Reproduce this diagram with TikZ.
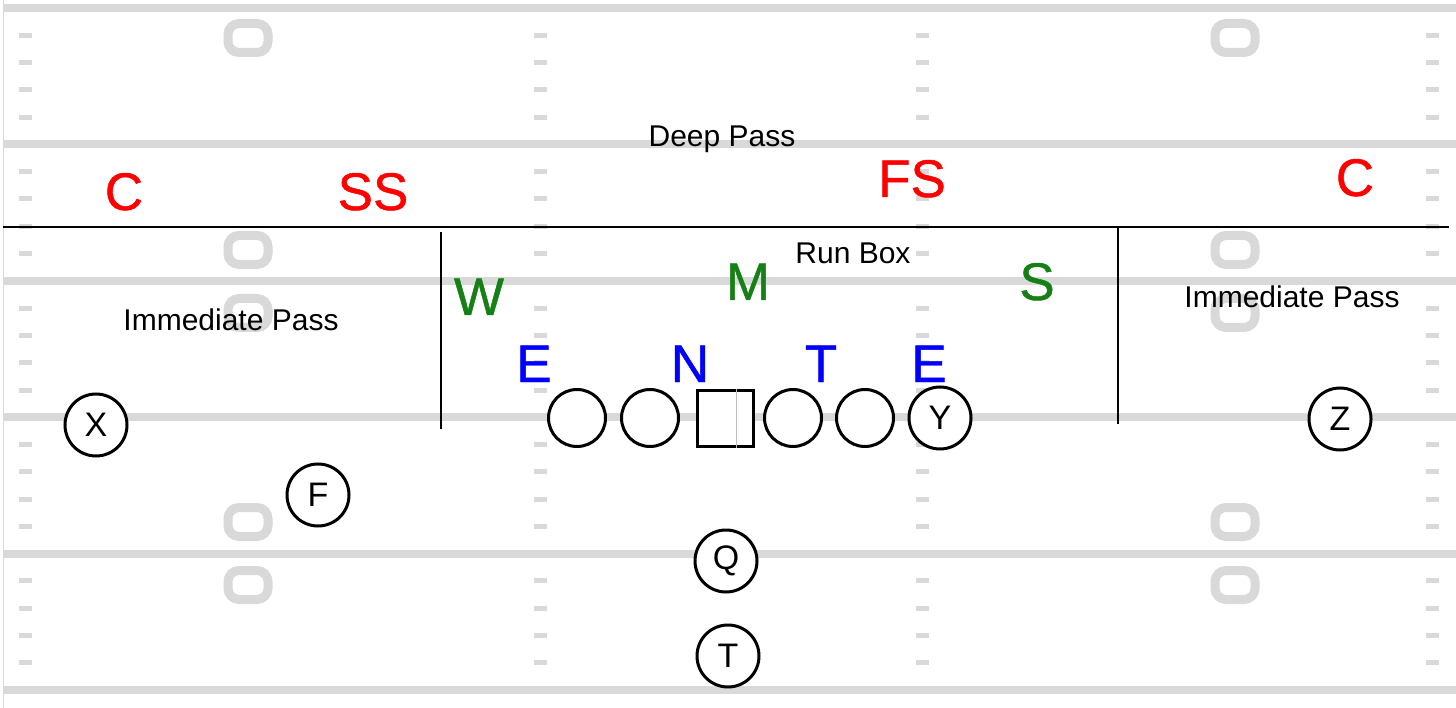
\documentclass[tikz,border=0pt]{standalone}
\usepackage{fontspec}
\setmainfont{Liberation Sans}
\newfontfamily\heavysans[FakeBold=0.9]{Liberation Sans}
\usepackage{tikz}
\definecolor{fieldgray}{RGB}{217,217,217}
\definecolor{defred}{RGB}{255,0,0}
\definecolor{lbgreen}{RGB}{22,128,22}
\definecolor{dlblue}{RGB}{0,0,255}

\begin{document}
\begin{tikzpicture}[x=1pt,y=-1pt,
		yardline/.style={draw=fieldgray,line width=8pt},
		hashmark/.style={fill=fieldgray},
		numberbox/.style={draw=fieldgray,line width=9pt,rounded corners=11pt},
		zoneline/.style={draw=black,line width=2.2pt},
		zonelabel/.style={font=\fontsize{30}{36}\selectfont,anchor=base,inner sep=0pt},
		defender/.style={font=\heavysans\fontsize{53}{60}\selectfont,anchor=base,inner sep=0pt},
		player/.style={fill=white,circle,draw,line width=3pt,minimum size=62pt,inner sep=0pt,font=\fontsize{34}{40}\selectfont},
		lineman/.style={player,minimum size=57pt}]
			\useasboundingbox (0,0) rectangle (1456,708);
			\fill[white] (0,0) rectangle (1456,708);
			% field
			\draw[fieldgray,line width=1pt] (3,0) -- (3,708);
			\foreach \i in {0,...,5}{
				\draw[yardline] (3, {8+136.4*\i}) -- (1456, {8+136.4*\i});
			}
			\foreach \i in {0,...,4}{
				\foreach \k in {1,...,4}{
					\foreach \x in {25,540,922,1432}{
						\fill[hashmark] ({\x-6.5}, {8+136.4*\i+27.3*\k-2.5}) rectangle ++(13,5);
					}
				}
			}
			\foreach \x in {248,1235}{
				\foreach \y in {38,250,313,522,585}{
					\draw[numberbox] ({\x-20}, {\y-14.5}) rectangle ({\x+20}, {\y+14.5});
				}
			}
			% zones
			\draw[zoneline] (3,227) -- (1449,227);
			\draw[zoneline] (441,232) -- (441,429);
			\draw[zoneline] (1118,227) -- (1118,424);
			\node[zonelabel] (deep) at (722,147) {Deep Pass};
			\node[zonelabel] (runbox) at (853,264) {Run Box};
			\node[zonelabel] (immleft) at (231,331) {Immediate Pass};
			\node[zonelabel] (immright) at (1292,308) {Immediate Pass};
			% defense
			\node[defender,text=defred] (cbl) at (124,210) {C};
			\node[defender,text=defred] (ss) at (373,210) {SS};
			\node[defender,text=defred] (fs) at (912,197) {FS};
			\node[defender,text=defred] (cbr) at (1355,196) {C};
			\node[defender,text=lbgreen] (will) at (479,315) {W};
			\node[defender,text=lbgreen] (mike) at (748,300) {M};
			\node[defender,text=lbgreen] (sam) at (1037,300) {S};
			\node[defender,text=dlblue] (endl) at (534,382) {E};
			\node[defender,text=dlblue] (nose) at (690,382) {N};
			\node[defender,text=dlblue] (tack) at (821,382) {T};
			\node[defender,text=dlblue] (endr) at (929,382) {E};
			% offense
			\node[lineman] (lt) at (577,418) {};
			\node[lineman] (lg) at (650,418) {};
			\node[fill=white,draw,line width=3pt,minimum size=56pt,inner sep=0pt] (ctr) at (725,418) {};
			\draw[gray!50,line width=0.8pt] ([xshift=11pt]ctr.north) -- ([xshift=11pt]ctr.south);
			\node[lineman] (rg) at (793,418) {};
			\node[lineman] (rt) at (865,418) {};
			\node[player] (yrec) at (940,418) {Y};
			\node[player] (xrec) at (96,425) {X};
			\node[player] (zrec) at (1340,419) {Z};
			\node[player] (fb) at (318,495) {F};
			\node[player] (qb) at (726,561) {Q};
			\node[player] (tb) at (728,656) {T};
		\end{tikzpicture}
\end{document}
